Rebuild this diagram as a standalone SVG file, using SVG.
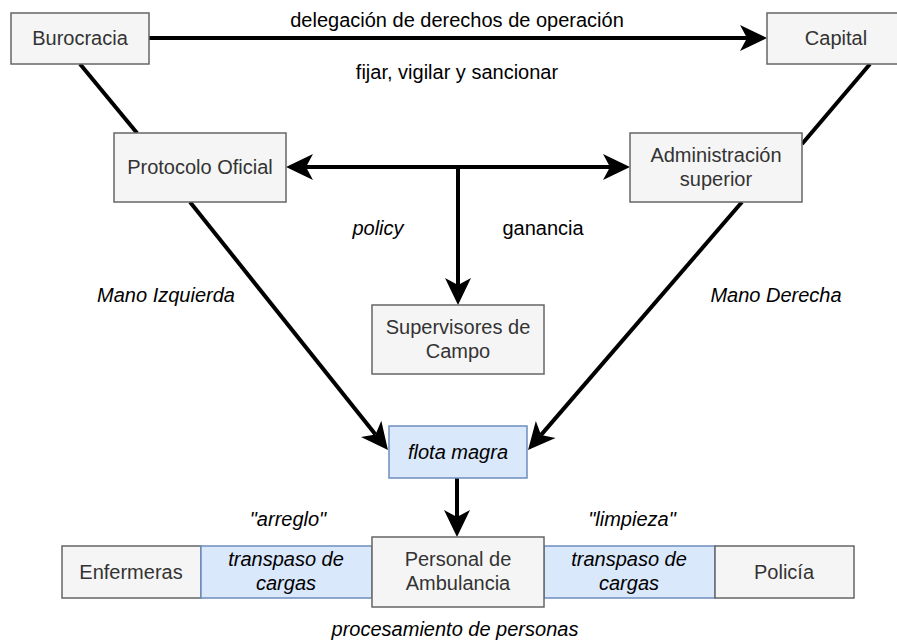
<svg xmlns="http://www.w3.org/2000/svg" width="897" height="642" viewBox="0 0 897 642">
<style>
text{font-family:"Liberation Sans",Arial,sans-serif;font-size:20px;text-anchor:middle;}
.g rect{fill:#f5f5f5;stroke:#666666;stroke-width:1.5;}
.g text{fill:#333333;}
.b rect{fill:#dae8fc;stroke:#6c8ebf;stroke-width:1.5;}
.b text{fill:#000000;font-style:italic;}
.lbl{fill:#000000;}
.it{font-style:italic;}
.c{stroke:#000000;stroke-width:4;fill:none;}
</style>
<defs>
<marker id="ah" markerUnits="userSpaceOnUse" orient="auto-start-reverse" refX="0" refY="0" markerWidth="60" markerHeight="60" overflow="visible">
<path d="M20,0 L-7,-13 L0,0 L-7,13 Z" fill="#000000"/>
</marker>
</defs>
<rect width="897" height="642" fill="#ffffff"/>
<g id="connectors">
<line class="c" x1="149" y1="38" x2="747" y2="38" marker-end="url(#ah)"/>
<line class="c" x1="80" y1="64" x2="137" y2="133"/>
<line class="c" x1="870" y1="64" x2="802" y2="144"/>
<line class="c" x1="306" y1="167" x2="610" y2="167" marker-start="url(#ah)" marker-end="url(#ah)"/>
<line class="c" x1="458" y1="167" x2="458" y2="285" marker-end="url(#ah)"/>
<line class="c" x1="190" y1="202" x2="375.5" y2="434.4" marker-end="url(#ah)"/>
<line class="c" x1="742" y1="202" x2="541.1" y2="434.9" marker-end="url(#ah)"/>
<line class="c" x1="457" y1="478" x2="457" y2="517" marker-end="url(#ah)"/>
</g>
<g id="labels" class="lbl">
<text x="457" y="27">delegación de derechos de operación</text>
<text x="457" y="79">fijar, vigilar y sancionar</text>
<text x="378" y="235" class="it">policy</text>
<text x="543" y="235">ganancia</text>
<text x="166" y="302" class="it">Mano Izquierda</text>
<text x="776" y="302" class="it">Mano Derecha</text>
<text x="288" y="526" class="it">"arreglo"</text>
<text x="632" y="526" class="it">"limpieza"</text>
<text x="455" y="636" class="it">procesamiento de personas</text>
</g>
<g id="burocracia" class="g"><rect x="11" y="13" width="138" height="51"/><text x="80" y="45">Burocracia</text></g>
<g id="capital" class="g"><rect x="767" y="13" width="138" height="51"/><text x="836" y="45">Capital</text></g>
<g id="protocolo" class="g"><rect x="114" y="133" width="172" height="69"/><text x="200" y="174">Protocolo Oficial</text></g>
<g id="administracion" class="g"><rect x="630" y="133" width="172" height="69"/><text x="716" y="162">Administración</text><text x="716" y="186">superior</text></g>
<g id="supervisores" class="g"><rect x="372" y="305" width="172" height="69"/><text x="458" y="334">Supervisores de</text><text x="458" y="358">Campo</text></g>
<g id="flota" class="b"><rect x="389" y="426" width="138" height="52"/><text x="458" y="459">flota magra</text></g>
<g id="enfermeras" class="g"><rect x="62" y="546" width="139" height="52"/><text x="131" y="579">Enfermeras</text></g>
<g id="transpaso1" class="b"><rect x="201" y="546" width="171" height="52"/><text x="286" y="566">transpaso de</text><text x="286" y="590">cargas</text></g>
<g id="transpaso2" class="b"><rect x="544" y="546" width="171" height="52"/><text x="629" y="566">transpaso de</text><text x="629" y="590">cargas</text></g>
<g id="policia" class="g"><rect x="715" y="546" width="139" height="52"/><text x="784" y="579">Policía</text></g>
<g id="personal" class="g"><rect x="372" y="537" width="172" height="70"/><text x="458" y="566">Personal de</text><text x="458" y="590">Ambulancia</text></g>
</svg>
